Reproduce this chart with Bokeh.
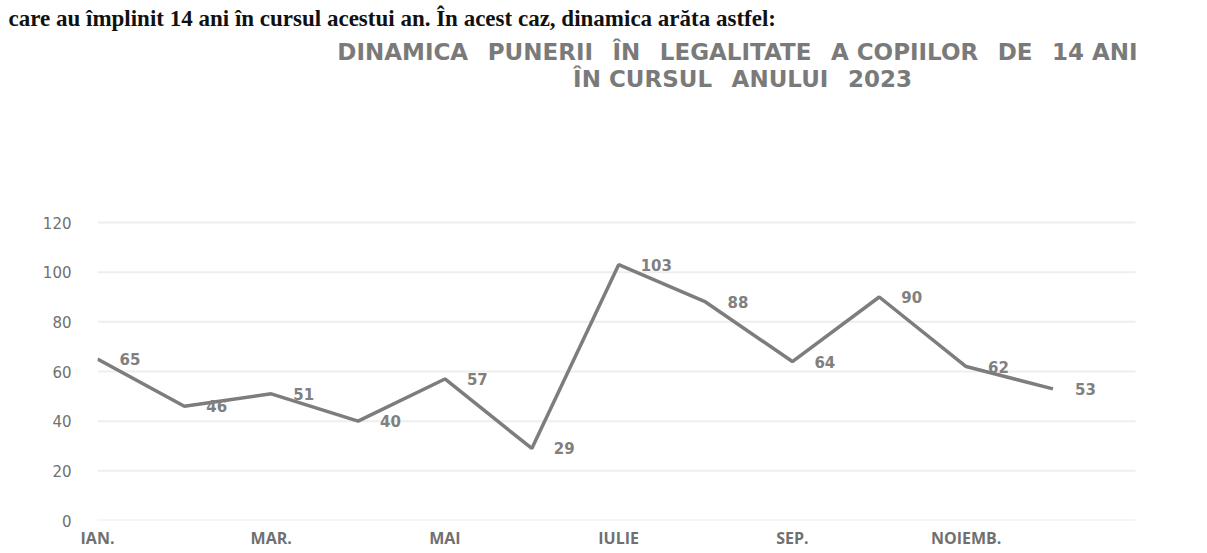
from bokeh.plotting import figure
from bokeh.models import ColumnDataSource, Range1d, FixedTicker, Label, LabelSet, Title
from bokeh.embed import file_html
from bokeh.resources import INLINE
from bokeh.core.properties import value

months = ["IAN.", "FEB.", "MAR.", "APR.", "MAI", "IUNIE", "IULIE", "AUG.", "SEP.", "OCT.", "NOIEMB.", "DEC."]
counts = [65, 46, 51, 40, 57, 29, 103, 88, 64, 90, 62, 53]
shown_ticks = [0, 2, 4, 6, 8, 10]
y_ticks = [0, 20, 40, 60, 80, 100, 120]
GAP = "\u2002 "
title_line1 = GAP.join(["DINAMICA", "PUNERII", "ÎN", "LEGALITATE", "A COPIILOR", "DE", "14 ANI"])
title_line2 = GAP.join(["ÎN CURSUL", "ANULUI", "2023"])
intro_text = "care au împlinit 14 ani în cursul acestui an. În acest caz, dinamica arăta astfel:"

W, H = 1207, 553
LEFT, RIGHT, BOTTOM, TOP = 97, 4, 33, 30
GRID_RIGHT_PX = 1135    # where the gridlines end
Y120_PX = 222           # pixel row of the 120 gridline
X_GRID_END = 11.95
frame_bottom = H - BOTTOM
y_per_px = 120 / (frame_bottom - Y120_PX)
x_per_px = X_GRID_END / (GRID_RIGHT_PX - LEFT)
X_END = (W - RIGHT - LEFT) * x_per_px
Y_END = (frame_bottom - TOP) * y_per_px

def px_to_data(px, py):
    return ((px - LEFT) * x_per_px, (frame_bottom - py) * y_per_px)

src = ColumnDataSource(dict(x=list(range(len(counts))), y=counts,
                            lab=[str(c) for c in counts]))

p = figure(width=W, height=H, output_backend="svg", toolbar_location=None,
           x_range=Range1d(0, X_END), y_range=Range1d(0, Y_END),
           min_border_left=LEFT, min_border_right=RIGHT, min_border_top=TOP,
           min_border_bottom=BOTTOM)
p.background_fill_color = "white"
p.border_fill_color = "white"
p.outline_line_color = None

p.add_layout(Title(text=intro_text, align="left", offset=-LEFT + 8, standoff=0,
                   text_font="Liberation Serif", text_font_style="bold",
                   text_font_size="23px", text_color="#111111"), "above")

# horizontal gridlines, limited to the chart's plot area
p.xgrid.grid_line_color = None
p.ygrid.grid_line_color = None
p.segment(x0=[0] * len(y_ticks), x1=[X_GRID_END] * len(y_ticks),
          y0=y_ticks, y1=y_ticks, line_color="#eeeeee", line_width=2)

p.line("x", "y", source=src, line_color="#7d7d7d", line_width=3.5)
p.add_layout(LabelSet(x="x", y="y", text="lab", source=src, x_offset=22,
                      text_align="left", text_baseline="middle",
                      text_font=value("DejaVu Sans"), text_font_style="bold",
                      text_font_size="15px", text_color="#808080"))

p.yaxis.ticker = FixedTicker(ticks=y_ticks)
p.yaxis.axis_line_color = None
p.yaxis.major_tick_line_color = None
p.yaxis.minor_tick_line_color = None
p.yaxis.major_label_standoff = 20
p.yaxis.major_label_text_font = "DejaVu Sans"
p.yaxis.major_label_text_font_size = "15px"
p.yaxis.major_label_text_color = "#707070"

p.xaxis.ticker = FixedTicker(ticks=shown_ticks)
p.xaxis.major_label_overrides = {i: months[i] for i in shown_ticks}
p.xaxis.axis_line_color = None
p.xaxis.major_tick_line_color = None
p.xaxis.minor_tick_line_color = None
p.xaxis.major_label_standoff = 0
p.xaxis.major_label_text_font = "Open Sans"
p.xaxis.major_label_text_font_style = "bold"
p.xaxis.major_label_text_font_size = "16px"
p.xaxis.major_label_text_color = "#707070"

tx1, ty1 = px_to_data(737, 51)
tx2, ty2 = px_to_data(742, 78)
p.add_layout(Label(x=tx1, y=ty1, text=title_line1, text_align="center",
                   text_baseline="middle", text_font="DejaVu Sans",
                   text_font_style="bold", text_font_size="23px",
                   text_color="#7a7a7a"))
p.add_layout(Label(x=tx2, y=ty2, text=title_line2, text_align="center",
                   text_baseline="middle", text_font="DejaVu Sans",
                   text_font_style="bold", text_font_size="23px",
                   text_color="#7a7a7a"))

open("out.html", "w").write(file_html(p, INLINE))
